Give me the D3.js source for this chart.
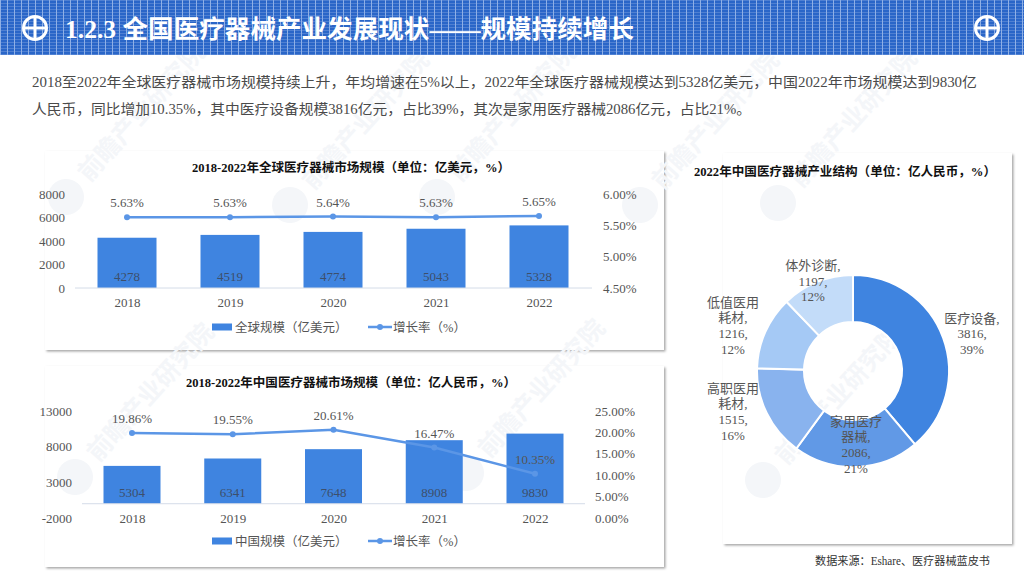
<!DOCTYPE html>
<html><head><meta charset="utf-8">
<script src="https://cdn.jsdelivr.net/npm/d3@7/dist/d3.min.js"></script>
<style>html,body{margin:0;padding:0;background:#fff}svg{display:block}</style></head>
<body><svg id="c" width="1024" height="576"></svg>
<script>
const years=["2018","2019","2020","2021","2022"];
const globalSize=[4278,4519,4774,5043,5328];
const globalRate=[5.63,5.63,5.64,5.63,5.65];
const chinaSize=[5304,6341,7648,8908,9830];
const chinaRate=[19.86,19.55,20.61,16.47,10.35];
const globalLeftTicks=[0,2000,4000,6000,8000];
const globalRightTicks=[4.5,5,5.5,6];
const chinaLeftTicks=[-2000,3000,8000,13000];
const chinaRightTicks=[0,5,10,15,20,25];
const pieNames=[["医疗设备,"],["家用医疗","器械,"],["高职医用","耗材,"],["低值医用","耗材,"],["体外诊断,"]];
const pieValues=[3816,2086,1515,1216,1197];
const piePct=["39%","21%","16%","12%","12%"];
const pieColors=["#3f84e0","#6199e6","#89b3ee","#a5c9f5","#c3dcf9"];
const FONT='"Liberation Serif","Noto Sans CJK SC",serif';
const TXT="#555";
const BAR="#3f84e0",LINE="#5b96e6";
const svg=d3.select("#c").style("font-family",FONT);
const defs=svg.append("defs");
const pat=defs.append("pattern").attr("id","grid").attr("width",7).attr("height",3).attr("patternUnits","userSpaceOnUse");
pat.append("rect").attr("width",7).attr("height",3).attr("fill","#2a66c8");
pat.append("path").attr("d","M0 .5H7").attr("stroke","#4f80d2").attr("stroke-width",1);
pat.append("path").attr("d","M.5 0V3").attr("stroke","#8fb0e6").attr("stroke-width",1);
const f=defs.append("filter").attr("id","sh").attr("x","-3%").attr("y","-3%").attr("width","106%").attr("height","106%");
f.append("feDropShadow").attr("dx",1.5).attr("dy",1.5).attr("stdDeviation",1.2).attr("flood-color","#000").attr("flood-opacity",.35);

const cardLayer=svg.append("g");
const wm=svg.append("g").attr("fill","#f4f6f9").attr("font-weight",700).attr("font-family",'"Noto Sans CJK SC"');
const watermarks=[[66,197],[437,197],[75,477],[466,473],[778,203],[763,480],[290,205],[640,205]];
watermarks.forEach(([x,y])=>{
  const g=wm.append("g").attr("transform",`translate(${x},${y}) rotate(-48)`);
  g.append("circle").attr("r",18);
  g.append("text").attr("font-size",25).attr("x",26).attr("y",8).text("前瞻产业研究院");
});

// header
svg.append("rect").attr("width",1024).attr("height",55).attr("fill","url(#grid)");
[35,987].forEach(x=>{
  const g=svg.append("g").attr("transform",`translate(${x},28)`).attr("stroke","#fff").attr("stroke-width",3).attr("fill","none");
  g.append("circle").attr("r",11.5);
  g.append("path").attr("d","M-11.5 0H11.5M0 -11.5V11.5");
});
svg.append("text").attr("x",65).attr("y",38).attr("fill","#fff").attr("font-size",25).attr("font-weight",700).attr("textLength",569).attr("lengthAdjust","spacingAndGlyphs").text("1.2.3 全国医疗器械产业发展现状——规模持续增长");

// paragraph
[["2018至2022年全球医疗器械市场规模持续上升\uFF0C年均增速在5%以上\uFF0C2022年全球医疗器械规模达到5328亿美元\uFF0C中国2022年市场规模达到9830亿",87,945],
 ["人民币\uFF0C同比增加10.35%\uFF0C其中医疗设备规模3816亿元\uFF0C占比39%\uFF0C其次是家用医疗器械2086亿元\uFF0C占比21%。",114,719]].forEach(([t,y,l])=>{
  svg.append("text").attr("x",32).attr("y",y).attr("fill","#4a4a4a").attr("font-size",14).attr("textLength",l).attr("lengthAdjust","spacingAndGlyphs").text(t);
});

function card(x,y,w,h){cardLayer.append("rect").attr("x",x).attr("y",y).attr("width",w).attr("height",h).attr("fill","#fff").attr("filter","url(#sh)");}

function combo(o){
  card(45,o.cy,619,o.ch);
  const g=svg.append("g");
  g.append("text").attr("x",o.tx).attr("y",o.cy+21).attr("font-size",12.5).attr("font-weight",700).attr("fill","#111").attr("textLength",o.tl).attr("lengthAdjust","spacingAndGlyphs").text(o.title);
  const x=d3.scalePoint().domain(years).range(o.xr);
  const yL=d3.scaleLinear().domain(o.ld).range(o.yr);
  const yR=d3.scaleLinear().domain(o.rd).range(o.yr);
  const zero=yL(0);
  g.selectAll(".b").data(o.size).join("rect").attr("fill",BAR)
    .attr("x",(d,i)=>x(years[i])-o.bw/2).attr("width",o.bw).attr("y",d=>yL(d)).attr("height",d=>zero-yL(d));
  const ax=g.append("g").attr("transform",`translate(0,${zero})`).call(d3.axisBottom(x).tickSize(0).tickPadding(o.xpad));
  ax.select(".domain").attr("d",`M${o.axl} 0H${o.axr}`).attr("stroke","#d4dce8");
  ax.selectAll("text").attr("font-family",FONT).attr("font-size",13).attr("fill",TXT);
  const al=g.append("g").attr("transform",`translate(${o.lx},0)`).call(d3.axisLeft(yL).tickValues(o.lt).tickSize(0).tickPadding(0).tickFormat(d=>String(d)));
  al.select(".domain").remove();
  al.selectAll("text").attr("font-family",FONT).attr("font-size",13).attr("fill",TXT);
  const ar=g.append("g").attr("transform",`translate(${o.rx},0)`).call(d3.axisRight(yR).tickValues(o.rt).tickSize(0).tickPadding(0).tickFormat(d=>d.toFixed(2)+"%"));
  ar.select(".domain").remove();
  ar.selectAll("text").attr("font-family",FONT).attr("font-size",13).attr("fill",TXT);
  const line=d3.line().x((d,i)=>x(years[i])).y(d=>yR(d));
  g.append("path").attr("d",line(o.rate)).attr("fill","none").attr("stroke",LINE).attr("stroke-width",2.5);
  g.selectAll(".p").data(o.rate).join("circle").attr("cx",(d,i)=>x(years[i])).attr("cy",d=>yR(d)).attr("r",3).attr("fill",LINE);
  g.selectAll(".rl").data(o.rate).join("text").attr("x",(d,i)=>x(years[i])).attr("y",d=>yR(d)-10)
    .attr("text-anchor","middle").attr("font-size",13).attr("fill",TXT).text(d=>d.toFixed(2)+"%");
  g.selectAll(".vl").data(o.size).join("text").attr("x",(d,i)=>x(years[i])).attr("y",zero-7)
    .attr("text-anchor","middle").attr("font-size",13).attr("fill","#3d4f6b").text(d=>d);
  const ly=o.ly;
  g.append("rect").attr("x",212).attr("y",ly-3.5).attr("width",20).attr("height",7).attr("fill",BAR);
  g.append("text").attr("x",235).attr("y",ly+4.5).attr("font-size",12.5).attr("fill",TXT).text(o.leg);
  g.append("path").attr("d",`M368 ${ly}H392`).attr("stroke",LINE).attr("stroke-width",2.5);
  g.append("circle").attr("cx",380).attr("cy",ly).attr("r",3).attr("fill",LINE);
  g.append("text").attr("x",393).attr("y",ly+4.5).attr("font-size",12.5).attr("fill",TXT).text("增长率\uFF08%\uFF09");
}
combo({cy:151,ch:199,tx:192,tl:318,title:"2018-2022年全球医疗器械市场规模\uFF08单位\uFF1A亿美元\uFF0C%\uFF09",size:globalSize,rate:globalRate,
  xr:[127,539],bw:59,ld:[0,8000],rd:[4.5,6],yr:[288,194],lt:globalLeftTicks,rt:globalRightTicks,lx:65,rx:603,axl:75,axr:592,xpad:10,ly:327,leg:"全球规模\uFF08亿美元\uFF09"});
combo({cy:366,ch:201,tx:186,tl:330,title:"2018-2022年中国医疗器械市场规模\uFF08单位\uFF1A亿人民币\uFF0C%\uFF09",size:chinaSize,rate:chinaRate,
  xr:[132,535],bw:57,ld:[-2000,13000],rd:[0,25],yr:[518,411],lt:chinaLeftTicks,rt:chinaRightTicks,lx:72,rx:595,axl:82,axr:585,xpad:10,ly:541,leg:"中国规模\uFF08亿美元\uFF09"});

// donut
card(723,153,289,391);
svg.append("text").attr("x",694).attr("y",176).attr("font-size",12.5).attr("font-weight",700).attr("fill","#111").attr("textLength",302).attr("lengthAdjust","spacingAndGlyphs").text("2022年中国医疗器械产业结构\uFF08单位\uFF1A亿人民币\uFF0C%\uFF09");
const arc=d3.arc().innerRadius(49).outerRadius(96);
const pie=d3.pie().sort(null);
const dg=svg.append("g").attr("transform","translate(853,371)");
dg.selectAll("path").data(pie(pieValues)).join("path").attr("d",arc).attr("fill",(d,i)=>pieColors[i]).attr("stroke","#fff").attr("stroke-width",2);
const labelPos=[[972,322.5],[856,425.5],[733,392.5],[733,306.5],[813,270]];
pieValues.forEach((v,i)=>{
  const lines=[...pieNames[i],v+",",piePct[i]];
  const t=svg.append("text").attr("text-anchor","middle").attr("font-size",13).attr("fill",TXT);
  lines.forEach((s,k)=>t.append("tspan").attr("x",labelPos[i][0]).attr("y",labelPos[i][1]+k*15.7).text(s));
});
svg.append("text").attr("x",815).attr("y",565).attr("font-size",11.5).attr("fill","#333").attr("textLength",175).attr("lengthAdjust","spacingAndGlyphs").text("数据来源\uFF1AEshare、医疗器械蓝皮书");
</script></body></html>
